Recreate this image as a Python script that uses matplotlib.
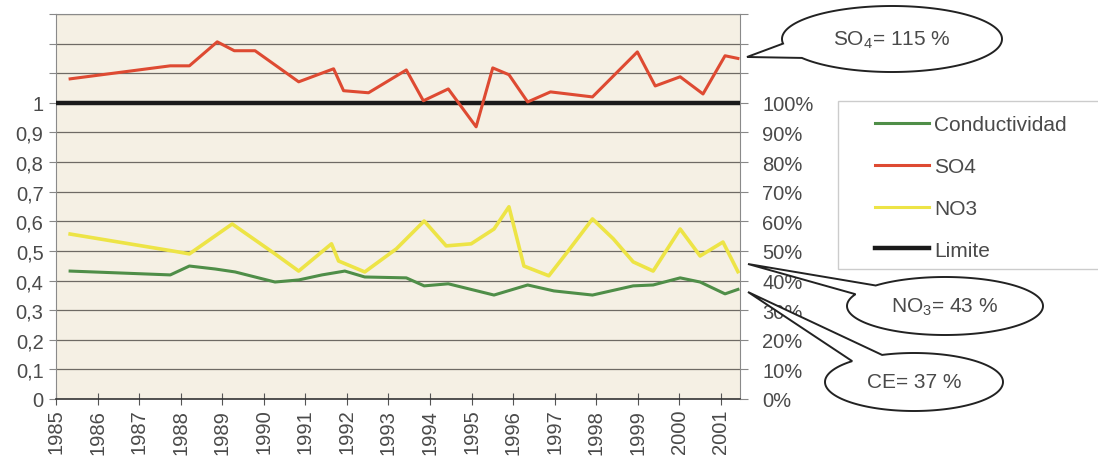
import matplotlib
matplotlib.use("Agg")
import matplotlib.pyplot as plt
import numpy as np
from matplotlib.patches import Polygon, Rectangle
from matplotlib.lines import Line2D

plt.rcParams['font.family'] = ['Liberation Sans', 'DejaVu Sans']
plt.rcParams['mathtext.fontset'] = 'custom'
plt.rcParams['mathtext.rm'] = 'Liberation Sans'
plt.rcParams['mathtext.it'] = 'Liberation Sans:italic'

W, H = 1098, 464

# serie de sulfatos (fraccion respecto al limite)
anios_so4 = [1985.34, 1987.75, 1988.21, 1988.88, 1989.29, 1989.79, 1990.84, 1991.68,
             1991.92, 1992.52, 1993.43, 1993.84, 1994.44, 1995.11, 1995.51, 1995.90,
             1996.35, 1996.90, 1997.91, 1998.99, 1999.42, 2000.02, 2000.57, 2001.10,
             2001.41]
so4 = [1.081, 1.125, 1.125, 1.206, 1.176, 1.176, 1.071, 1.115,
       1.041, 1.034, 1.111, 1.007, 1.047, 0.919, 1.118, 1.095,
       1.003, 1.037, 1.020, 1.172, 1.057, 1.088, 1.030, 1.159,
       1.15]

# serie de nitratos
anios_no3 = [1985.34, 1987.80, 1988.21, 1989.24, 1990.27, 1990.84, 1991.63, 1991.80,
             1992.43, 1993.19, 1993.86, 1994.39, 1994.99, 1995.54, 1995.90, 1996.26,
             1996.86, 1997.31, 1997.91, 1998.41, 1998.89, 1999.37, 2000.02, 2000.50,
             2001.05, 2001.41]
no3 = [0.557, 0.500, 0.490, 0.591, 0.490, 0.432, 0.524, 0.466,
       0.429, 0.507, 0.601, 0.517, 0.524, 0.574, 0.649, 0.449,
       0.416, 0.497, 0.608, 0.541, 0.463, 0.432, 0.574, 0.483,
       0.530, 0.43]

# conductividad electrica
anios_ce = [1985.34, 1987.75, 1988.21, 1988.83, 1989.31, 1990.27, 1990.84, 1991.40,
            1991.95, 1992.43, 1993.43, 1993.86, 1994.44, 1995.54, 1996.35, 1996.98,
            1997.91, 1998.89, 1999.37, 2000.02, 2000.50, 2001.10, 2001.41]
ce = [0.432, 0.419, 0.449, 0.439, 0.429, 0.395, 0.402, 0.419,
      0.432, 0.412, 0.409, 0.382, 0.389, 0.351, 0.385, 0.365,
      0.351, 0.382, 0.385, 0.409, 0.395, 0.355, 0.37]

limite = 1.0
anios_eje = list(range(1985, 2002))
niveles = [round(0.1 * i, 1) for i in range(14)]

fig = plt.figure(figsize=(W / 100, H / 100), dpi=100)
ax = fig.add_axes([56 / W, 1 - 400 / H, (740 - 56) / W, (400 - 15) / H])
ax.set_facecolor('#f5f0e4')
ax.set_xlim(1985.07, 2001.46)
ax.set_ylim(0, 1.3)

for v in niveles[1:]:
    ax.axhline(v, color='#6e6a64', lw=0.9, zorder=1)

ax.axhline(limite, color='#1a1a1a', lw=3.2, zorder=3)
ax.plot(anios_no3, no3, color='#ede446', lw=2.6, zorder=4)
ax.plot(anios_ce, ce, color='#4f8e48', lw=2.2, zorder=4)
ax.plot(anios_so4, so4, color='#de4a32', lw=2.2, zorder=5)

gris = '#4a4a4a'
ax.set_yticks(niveles)
ax.set_yticklabels([('%g' % v).replace('.', ',') if v <= 1 else '' for v in niveles])
ax.set_xticks(anios_eje)
ax.set_xticklabels([str(a) for a in anios_eje], rotation=90)
ax.tick_params(axis='y', length=5, color='#888888', labelsize=14.5, labelcolor=gris, pad=4)
ax.tick_params(axis='x', direction='inout', length=8, color='#555555', labelsize=14.5,
               labelcolor=gris, pad=3)
for lado in ['left', 'right', 'top']:
    ax.spines[lado].set_color('#8a8a8a')
ax.spines['bottom'].set_color('#333333')
ax.spines['bottom'].set_linewidth(1.2)

ax2 = ax.twinx()
ax2.set_ylim(ax.get_ylim())
ax2.set_yticks(niveles)
ax2.set_yticklabels(['%d%%' % round(v * 100) if v <= 1 else '' for v in niveles])
ax2.tick_params(axis='y', length=6, color='#888888', labelsize=14.5, labelcolor=gris, pad=10)
for s in ax2.spines.values():
    s.set_visible(False)

# recuadro de la leyenda
fig.patches.append(Rectangle((838 / W, 1 - 270 / H), (1100 - 838) / W, 168 / H,
                             transform=fig.transFigure, fc='white', ec='#cccccc', lw=1))
handles = [Line2D([], [], color='#4f8e48', lw=2.2),
           Line2D([], [], color='#de4a32', lw=2.2),
           Line2D([], [], color='#ede446', lw=2.2),
           Line2D([], [], color='#1a1a1a', lw=3.2)]
leg = fig.legend(handles, ['Conductividad', 'SO4', 'NO3', 'Limite'], loc='upper left',
                 bbox_to_anchor=(875 / W, 1 - 116 / H), frameon=False, borderpad=0,
                 borderaxespad=0, handlelength=2.6, handletextpad=0.25,
                 labelspacing=1.1, fontsize=15)
for t in leg.get_texts():
    t.set_color(gris)


def bocadillo(cx, cy, rx, ry, punta, t1, t2, texto):
    # elipse con cola: se abre el hueco entre t1 y t2 (grados) y se une a la punta
    t = np.radians(np.linspace(t2, t1 + 360, 240))
    pts = np.column_stack([cx + rx * np.cos(t), cy + ry * np.sin(t)])
    pts = np.vstack([pts, punta])
    pts_f = np.column_stack([pts[:, 0] / W, 1 - pts[:, 1] / H])
    fig.patches.append(Polygon(pts_f, closed=True, transform=fig.transFigure,
                               fc='white', ec='#222222', lw=1.4, zorder=5))
    fig.text(cx / W, 1 - cy / H, texto, ha='center', va='center', fontsize=15,
             color=gris, zorder=6)


bocadillo(892, 40, 110, 33, (747, 58), 145, 172, r'SO$_\mathregular{4}$= 115 %')
bocadillo(945, 307, 98, 29, (748, 265), 204, 225, r'NO$_\mathregular{3}$= 43 %')
bocadillo(914, 383, 89, 29, (748, 293), 226, 249, 'CE= 37 %')

fig.savefig('out.png', dpi=100)
